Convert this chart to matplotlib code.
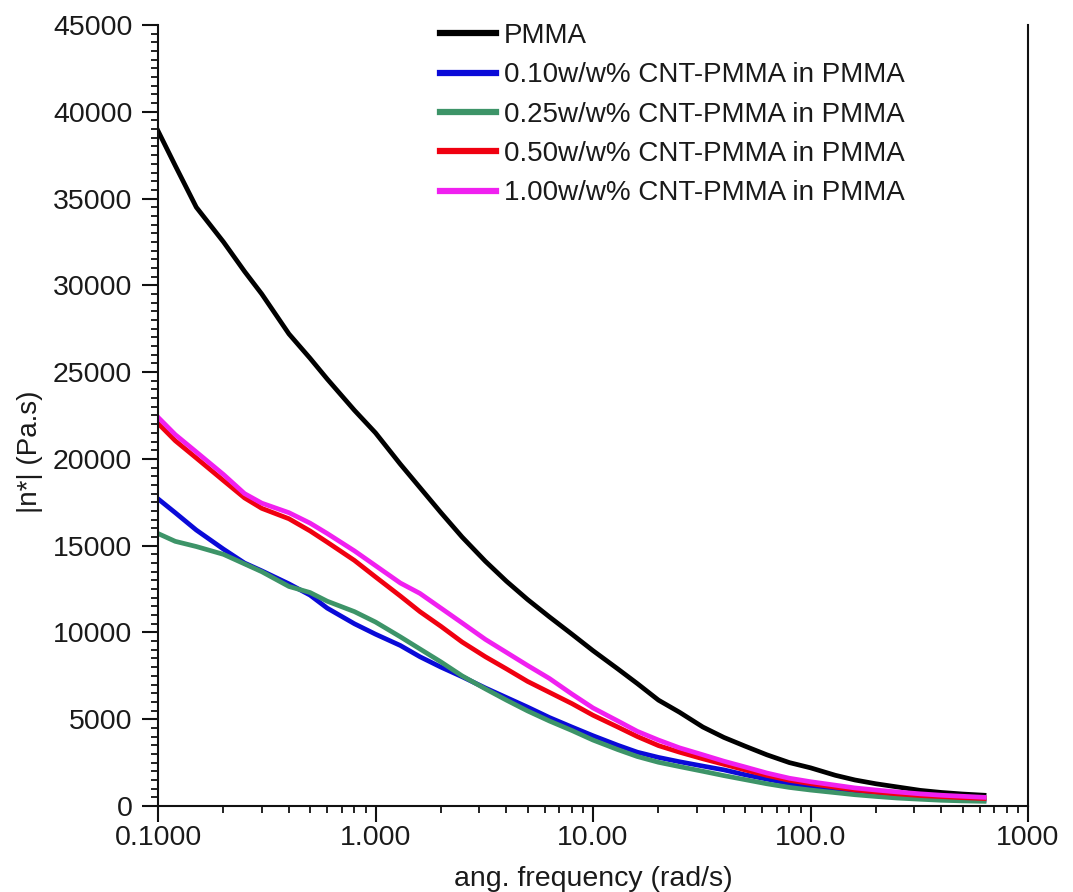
import numpy as np
import matplotlib
matplotlib.use("Agg")
import matplotlib.pyplot as plt
from matplotlib.ticker import FixedLocator, FixedFormatter, MultipleLocator, LogLocator, NullFormatter

# angular frequency (rad/s)
freq = [0.1, 0.12, 0.15, 0.2, 0.25, 0.3, 0.4, 0.5, 0.6, 0.8, 1.0, 1.3, 1.6, 2.0,
        2.5, 3.2, 4.0, 5.0, 6.3, 8.0, 10, 13, 16, 20, 25, 32, 40, 50, 63, 80,
        100, 130, 160, 200, 250, 320, 400, 500, 628]

# complex viscosity |eta*| (Pa.s)
pmma = [38900, 36900, 34500, 32500, 30800, 29500, 27200, 25800, 24600, 22800,
        21500, 19700, 18350, 16900, 15500, 14100, 12950, 11900, 10900, 9900,
        8950, 7900, 7050, 6100, 5400, 4550, 3950, 3450, 2950, 2500,
        2200, 1770, 1500, 1280, 1100, 900, 780, 690, 620]
cnt_010 = [17700, 16900, 15900, 14800, 14000, 13550, 12800, 12150, 11400, 10500,
           9900, 9250, 8600, 8000, 7450, 6800, 6250, 5700, 5100, 4550,
           4050, 3500, 3100, 2800, 2550, 2300, 2080, 1800, 1550, 1300,
           1120, 950, 810, 690, 590, 500, 430, 380, 340]
cnt_025 = [15700, 15250, 14950, 14500, 13950, 13500, 12650, 12300, 11800, 11200,
           10600, 9750, 9050, 8300, 7500, 6750, 6100, 5480, 4900, 4350,
           3800, 3250, 2850, 2520, 2270, 2000, 1750, 1520, 1280, 1070,
           920, 770, 650, 550, 460, 390, 330, 295, 270]
cnt_050 = [22050, 21050, 20050, 18750, 17750, 17150, 16550, 15850, 15200, 14150,
           13200, 12100, 11200, 10350, 9450, 8600, 7900, 7180, 6550, 5900,
           5230, 4550, 4000, 3480, 3100, 2720, 2400, 2080, 1760, 1480,
           1290, 1080, 930, 810, 700, 600, 540, 480, 430]
cnt_100 = [22400, 21400, 20400, 19100, 18000, 17450, 16900, 16300, 15700, 14700,
           13850, 12850, 12250, 11400, 10550, 9600, 8850, 8100, 7350, 6450,
           5650, 4900, 4300, 3800, 3350, 2950, 2580, 2250, 1900, 1600,
           1400, 1200, 1040, 920, 810, 700, 620, 560, 500]

labels = ["PMMA",
          "0.10w/w% CNT-PMMA in PMMA",
          "0.25w/w% CNT-PMMA in PMMA",
          "0.50w/w% CNT-PMMA in PMMA",
          "1.00w/w% CNT-PMMA in PMMA"]
colors = ["#000000", "#0a0ad8", "#3d9468", "#f00010", "#f020f0"]

xtick_vals = [0.1, 1, 10, 100, 1000]
xtick_labels = ["0.1000", "1.000", "10.00", "100.0", "1000"]

plt.rcParams["font.family"] = ["Liberation Sans", "DejaVu Sans"]
text_color = "#1a1a1a"

fig = plt.figure(figsize=(10.73, 8.92), dpi=100)
ax = fig.add_axes([158 / 1073, 1 - 806 / 892, (1028 - 158) / 1073, (806 - 25) / 892])

series = [pmma, cnt_010, cnt_025, cnt_050, cnt_100]
for vals, lab, col in zip(series, labels, colors):
    ax.plot(freq, vals, color=col, lw=3.4, label=lab, solid_joinstyle="round")

ax.set_xscale("log")
ax.set_xlim(0.1, 1000)
ax.set_ylim(0, 45000)

ax.xaxis.set_major_locator(FixedLocator(xtick_vals))
ax.xaxis.set_major_formatter(FixedFormatter(xtick_labels))
ax.xaxis.set_minor_locator(LogLocator(base=10, subs=np.arange(2, 10)))
ax.xaxis.set_minor_formatter(NullFormatter())
ax.yaxis.set_major_locator(MultipleLocator(5000))
ax.yaxis.set_minor_locator(MultipleLocator(500))

for side in ("left", "bottom", "right"):
    ax.spines[side].set_linewidth(1.5)
    ax.spines[side].set_color("#111111")
ax.spines["top"].set_visible(False)

ax.tick_params(axis="both", which="major", direction="out", length=11.5, width=1.5,
               colors="#111111", labelcolor=text_color, labelsize=20.5)
ax.tick_params(axis="both", which="minor", direction="out", length=5, width=1.3,
               colors="#111111")
ax.tick_params(axis="y", which="major", pad=7)
ax.tick_params(axis="x", which="major", pad=2.5)
ax.tick_params(right=False, top=False, which="both")

fig.text(593 / 1073, 1 - 879 / 892, "ang. frequency (rad/s)", ha="center", va="center",
         fontsize=20.5, color=text_color)
fig.text(30 / 1073, 1 - 452 / 892, "|n*| (Pa.s)", ha="center", va="center",
         rotation=90, fontsize=20, color=text_color)

leg = ax.legend(loc="upper left", bbox_to_anchor=(440 / 1073, 1 - 23 / 892),
                bbox_transform=fig.transFigure, frameon=False, fontsize=20,
                handlelength=2.0, handletextpad=0.3, labelspacing=0.48,
                borderaxespad=0, borderpad=0)
for line in leg.get_lines():
    line.set_linewidth(4.5)
for t in leg.get_texts():
    t.set_color(text_color)

fig.savefig("out.png", dpi=100)
